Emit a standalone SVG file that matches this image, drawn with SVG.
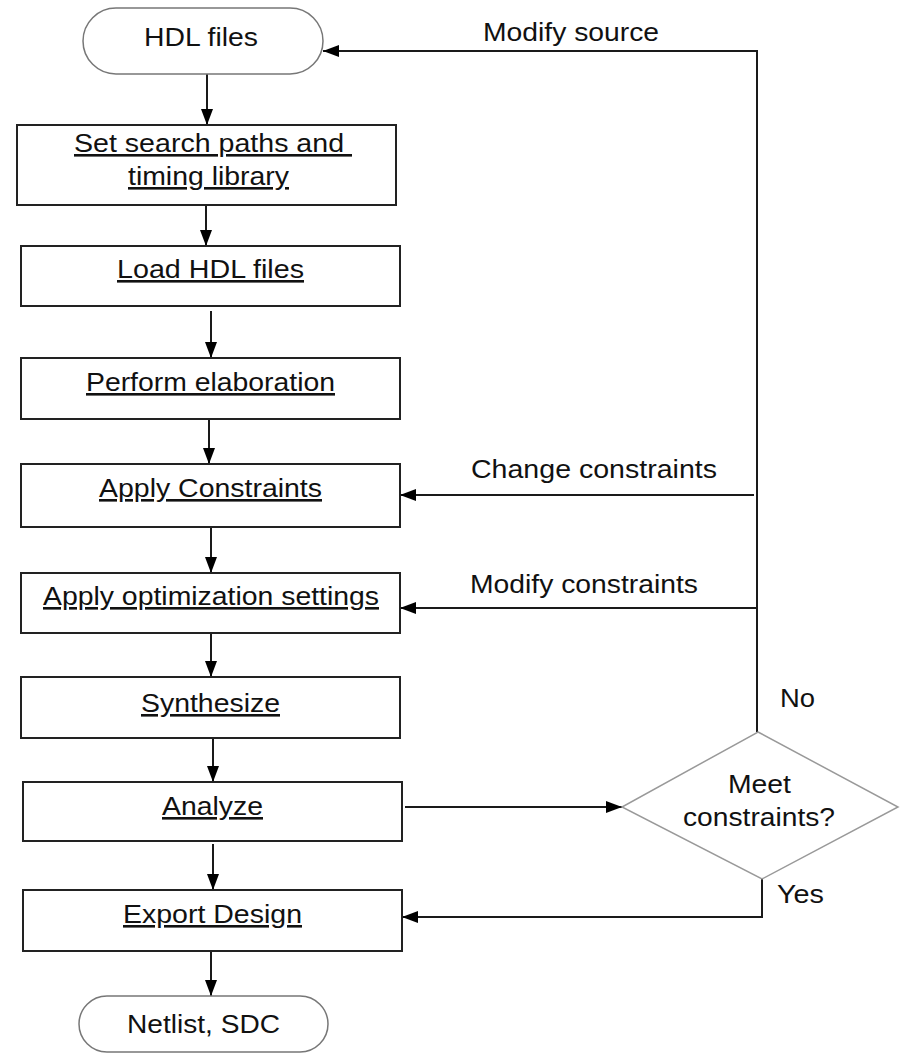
<svg xmlns="http://www.w3.org/2000/svg" width="903" height="1054" viewBox="0 0 903 1054">
  <style>
    .box { fill: #fff; stroke: #222; stroke-width: 2; }
    .term { fill: #fff; stroke: #777; stroke-width: 1.5; }
    .dec { fill: #fff; stroke: #999; stroke-width: 1.5; }
    .lbl { font-family: "Liberation Sans", Arial, sans-serif; font-size: 26px; fill: #111; }
    .ul { text-decoration: underline; }
    .wire { fill: none; stroke: #1a1a1a; stroke-width: 2; }
  </style>
  <defs>
    <marker id="arrow" viewBox="0 0 16 12" refX="16" refY="6" markerWidth="16" markerHeight="12" markerUnits="userSpaceOnUse" orient="auto">
      <path d="M0,0 L16,6 L0,12 Z" fill="#000"/>
    </marker>
  </defs>
  <rect width="903" height="1054" fill="#fff"/>

  <!-- connectors -->
  <g id="connectors">
    <line class="wire" x1="207" y1="74" x2="207" y2="125" marker-end="url(#arrow)"/>
    <line class="wire" x1="206" y1="205" x2="206" y2="246" marker-end="url(#arrow)"/>
    <line class="wire" x1="211" y1="311" x2="211" y2="358" marker-end="url(#arrow)"/>
    <line class="wire" x1="209" y1="419" x2="209" y2="464" marker-end="url(#arrow)"/>
    <line class="wire" x1="211" y1="527" x2="211" y2="573" marker-end="url(#arrow)"/>
    <line class="wire" x1="211" y1="633" x2="211" y2="677" marker-end="url(#arrow)"/>
    <line class="wire" x1="213" y1="736" x2="213" y2="782" marker-end="url(#arrow)"/>
    <line class="wire" x1="213" y1="844" x2="213" y2="890" marker-end="url(#arrow)"/>
    <line class="wire" x1="211" y1="951" x2="211" y2="996" marker-end="url(#arrow)"/>
    <!-- feedback trunk from the decision -->
    <polyline class="wire" points="757,732 757,51 323,51" marker-end="url(#arrow)"/>
    <line class="wire" x1="754" y1="495" x2="400" y2="495" marker-end="url(#arrow)"/>
    <line class="wire" x1="757" y1="608" x2="400" y2="608" marker-end="url(#arrow)"/>
    <!-- analyze to decision -->
    <line class="wire" x1="405" y1="807" x2="622" y2="807" marker-end="url(#arrow)"/>
    <!-- yes branch -->
    <polyline class="wire" points="762,879 762,917 402,917" marker-end="url(#arrow)"/>
    <text class="lbl" x="483" y="41" textLength="176" lengthAdjust="spacingAndGlyphs">Modify source</text>
    <text class="lbl" x="471" y="478" textLength="246" lengthAdjust="spacingAndGlyphs">Change constraints</text>
    <text class="lbl" x="470" y="593" textLength="228" lengthAdjust="spacingAndGlyphs">Modify constraints</text>
    <text class="lbl" x="780" y="707" textLength="35" lengthAdjust="spacingAndGlyphs">No</text>
    <text class="lbl" x="777" y="903" textLength="47" lengthAdjust="spacingAndGlyphs">Yes</text>
  </g>

  <g id="hdl-files">
    <rect class="term" x="83" y="8" width="240" height="66" rx="33" ry="33"/>
    <text class="lbl" x="144" y="46" textLength="114" lengthAdjust="spacingAndGlyphs">HDL files</text>
  </g>

  <g id="set-search-paths">
    <rect class="box" x="17" y="125" width="379" height="80"/>
    <text class="lbl ul" x="74" y="152" textLength="278" lengthAdjust="spacingAndGlyphs">Set search paths and&#160;</text>
    <text class="lbl ul" x="128" y="185" textLength="161" lengthAdjust="spacingAndGlyphs">timing library</text>
  </g>

  <g id="load-hdl">
    <rect class="box" x="21" y="246" width="379" height="60"/>
    <text class="lbl ul" x="117" y="278" textLength="187" lengthAdjust="spacingAndGlyphs">Load HDL files</text>
  </g>

  <g id="elaboration">
    <rect class="box" x="21" y="358" width="379" height="61"/>
    <text class="lbl ul" x="86" y="391" textLength="249" lengthAdjust="spacingAndGlyphs">Perform elaboration</text>
  </g>

  <g id="apply-constraints">
    <rect class="box" x="21" y="464" width="379" height="63"/>
    <text class="lbl ul" x="99" y="497" textLength="223" lengthAdjust="spacingAndGlyphs">Apply Constraints</text>
  </g>

  <g id="optimization">
    <rect class="box" x="21" y="573" width="379" height="60"/>
    <text class="lbl ul" x="43" y="605" textLength="336" lengthAdjust="spacingAndGlyphs">Apply optimization settings</text>
  </g>

  <g id="synthesize">
    <rect class="box" x="21" y="677" width="379" height="61"/>
    <text class="lbl ul" x="141" y="712" textLength="139" lengthAdjust="spacingAndGlyphs">Synthesize</text>
  </g>

  <g id="analyze">
    <rect class="box" x="23" y="782" width="379" height="59"/>
    <text class="lbl ul" x="162" y="815" textLength="101" lengthAdjust="spacingAndGlyphs">Analyze</text>
  </g>

  <g id="export-design">
    <rect class="box" x="23" y="890" width="379" height="61"/>
    <text class="lbl ul" x="123" y="923" textLength="179" lengthAdjust="spacingAndGlyphs">Export Design</text>
  </g>

  <g id="netlist-sdc">
    <rect class="term" x="79" y="996" width="249" height="56" rx="28" ry="28"/>
    <text class="lbl" x="127" y="1033" textLength="153" lengthAdjust="spacingAndGlyphs">Netlist, SDC</text>
  </g>

  <g id="meet-constraints">
    <polygon class="dec" points="758,732 898,807 762,879 622,807"/>
    <text class="lbl" x="728" y="793" textLength="63" lengthAdjust="spacingAndGlyphs">Meet</text>
    <text class="lbl" x="683" y="826" textLength="152" lengthAdjust="spacingAndGlyphs">constraints?</text>
  </g>
</svg>
